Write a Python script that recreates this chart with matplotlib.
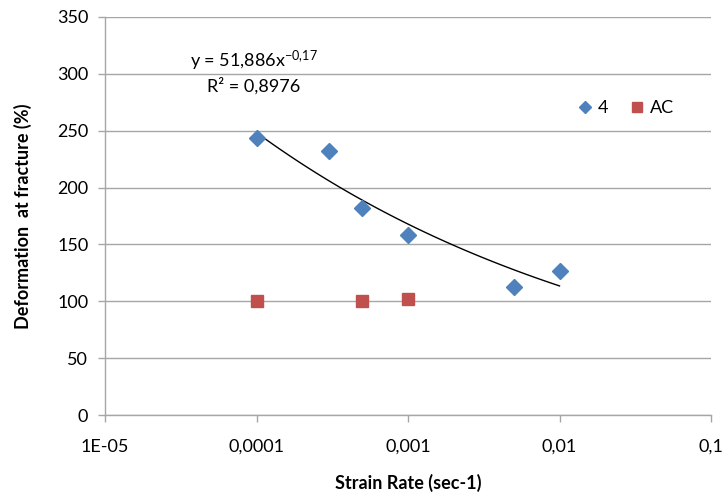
import numpy as np
import matplotlib
matplotlib.use("Agg")
import matplotlib.pyplot as plt
from matplotlib.ticker import FixedLocator, FixedFormatter, NullLocator

# Data
rate_4 = [0.0001, 0.0003, 0.0005, 0.001, 0.005, 0.01]
def_4 = [244, 232, 182, 158, 113, 127]
rate_ac = [0.0001, 0.0005, 0.001]
def_ac = [100, 100, 102]

# Power trendline coefficients (as displayed)
coef_a = 51.886
coef_b = -0.17
trend_range = [0.0001, 0.01]

x_ticks = [1e-5, 1e-4, 1e-3, 1e-2, 1e-1]
x_labels = ["1E-05", "0,0001", "0,001", "0,01", "0,1"]
y_ticks = [0, 50, 100, 150, 200, 250, 300, 350]

plt.rcParams['font.family'] = ['Lato', 'DejaVu Sans']
plt.rcParams['mathtext.fontset'] = 'custom'
plt.rcParams['mathtext.rm'] = 'Lato'
plt.rcParams['mathtext.it'] = 'Lato'

fig = plt.figure(figsize=(7.24, 4.96), dpi=100)
ax = fig.add_axes([105/724, 1-415/496, (711-105)/724, (415-17)/496])

blue = '#4F81BD'
red = '#C0504D'
grid_c = '#A6A6A6'

xt = np.logspace(np.log10(trend_range[0]), np.log10(trend_range[1]), 100)
ax.plot(xt, coef_a * xt ** coef_b, color='black', lw=1.0, zorder=2)

ax.plot(rate_4, def_4, linestyle='none', marker='D', ms=8, color=blue,
        markeredgecolor=blue, label='4', zorder=3)
ax.plot(rate_ac, def_ac, linestyle='none', marker='s', ms=9, color=red,
        markeredgecolor=red, label='AC', zorder=3)

ax.set_xscale('log')
ax.set_xlim(1e-5, 1e-1)
ax.set_ylim(0, 350)
ax.xaxis.set_major_locator(FixedLocator(x_ticks))
ax.xaxis.set_major_formatter(FixedFormatter(x_labels))
ax.xaxis.set_minor_locator(NullLocator())
ax.set_yticks(y_ticks)

ax.yaxis.grid(True, color=grid_c, lw=1.0)
ax.set_axisbelow(True)
for s in ['top', 'right']:
    ax.spines[s].set_visible(False)
for s in ['left', 'bottom']:
    ax.spines[s].set_color(grid_c)
    ax.spines[s].set_linewidth(1.0)
ax.tick_params(axis='both', colors=grid_c, labelcolor='black', labelsize=13,
               length=5, width=1.0)
ax.tick_params(axis='x', pad=12)
ax.tick_params(axis='y', pad=7)

ax.set_xlabel('Strain Rate (sec-1)', fontsize=13, fontweight='bold', labelpad=14)
ax.set_ylabel('Deformation  at fracture (%)', fontsize=13, fontweight='bold', labelpad=18)

ax.text(9.6e-5, 311, r'y = 51,886x$^{\mathregular{-0{,}17}}$', fontsize=13, ha='center', va='center')
ax.text(9.6e-5, 289, 'R² = 0,8976', fontsize=13, ha='center', va='center')

leg = ax.legend(loc='center', bbox_to_anchor=((627-105)/606, (415-108)/398),
                ncol=2, frameon=False, fontsize=13, handlelength=0.6,
                handletextpad=0.4, columnspacing=1.3, markerscale=0.75)

fig.savefig('out.png', dpi=100)
